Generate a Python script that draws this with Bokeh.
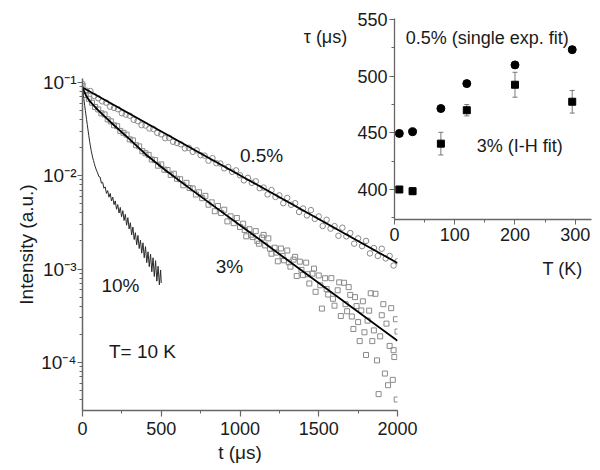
from bokeh.plotting import figure
from bokeh.models import (Label, SingleIntervalTicker, LogTicker, CustomJSTickFormatter,
                          Whisker, ColumnDataSource, TeeHead)
from bokeh.embed import file_html
from bokeh.resources import INLINE

# ---------------- main panel data (T = 10 K) ----------------
t05 = [0, 25, 50, 75, 100, 125, 150, 175, 200, 225, 250, 275, 300, 325, 350, 375, 400, 425, 450, 475,
       500, 525, 550, 575, 600, 625, 650, 675, 700, 725, 750, 775, 800, 825, 850, 875, 900, 925, 950, 975,
       1000, 1025, 1050, 1075, 1100, 1125, 1150, 1175, 1200, 1225, 1250, 1275, 1300, 1325, 1350, 1375,
       1400, 1425, 1450, 1475, 1500, 1525, 1550, 1575, 1600, 1625, 1650, 1675, 1700, 1725, 1750, 1775,
       1800, 1825, 1850, 1875, 1900, 1925, 1950, 1975, 2000]
i05 = [0.0964, 0.0814, 0.0807, 0.0714, 0.0676, 0.0626, 0.0607, 0.0549, 0.0532, 0.0516,
       0.0467, 0.0452, 0.0439, 0.0397, 0.0385, 0.0348, 0.0345, 0.0320, 0.0317, 0.0287,
       0.0278, 0.0252, 0.0255, 0.0231, 0.0224, 0.0217, 0.0196, 0.0199, 0.0180, 0.0187,
       0.0166, 0.0164, 0.0145, 0.0154, 0.0136, 0.0135, 0.0120, 0.0124, 0.0110, 0.0114,
       0.0101, 0.00892, 0.00948, 0.00839, 0.00871, 0.00735, 0.00746, 0.00630, 0.00702, 0.00592,
       0.00615, 0.00508, 0.00578, 0.00488, 0.00507, 0.00409, 0.00445, 0.00375, 0.00428, 0.00345,
       0.00366, 0.00289, 0.00337, 0.00271, 0.00288, 0.00227, 0.00277, 0.00224, 0.00243, 0.00187,
       0.00213, 0.00176, 0.00200, 0.00147, 0.00168, 0.00138, 0.00165, 0.00130, 0.00138, 0.00109,
       0.00121]

t3 = [0, 20, 40, 60, 80, 100, 120, 140, 160, 180, 200, 220, 240, 260, 280, 300, 320, 340, 360, 380,
      400, 420, 440, 460, 480, 500, 520, 540, 560, 580, 600, 620, 640, 660, 680, 700, 720, 740, 760, 780,
      800, 820, 840, 860, 880, 900, 920, 940, 960, 980, 1000, 1020, 1040, 1060, 1080, 1100, 1120, 1140,
      1160, 1180, 1200, 1220, 1240, 1260, 1280, 1300, 1320, 1340, 1360, 1380, 1400, 1420, 1440, 1460,
      1480, 1500, 1520, 1540, 1560, 1580, 1600, 1620, 1640, 1660, 1680, 1700, 1720, 1740, 1760, 1780,
      1800, 1820, 1840, 1860, 1880, 1900, 1920, 1940, 1960, 1980, 2000,
      1030, 1070, 1110, 1150, 1190, 1230, 1270, 1310, 1350, 1390, 1430, 1470, 1510, 1550, 1590, 1630,
      1670, 1690, 1710, 1730, 1750, 1770, 1790, 1810, 1830, 1850, 1870, 1890, 1910, 1930, 1950, 1970,
      1990, 1995, 1975]
i3 = [0.0912, 0.0733, 0.0667, 0.0605, 0.0545, 0.0513, 0.0466, 0.0453, 0.0402, 0.0382,
      0.0347, 0.0339, 0.0302, 0.0288, 0.0275, 0.0245, 0.0239, 0.0212, 0.0206, 0.0183,
      0.0174, 0.0167, 0.0149, 0.0147, 0.0128, 0.0132, 0.0116, 0.0115, 0.0102, 0.0105,
      0.00927, 0.00916, 0.00789, 0.00838, 0.00738, 0.00729, 0.00628, 0.00665, 0.00574, 0.00608,
      0.00489, 0.00518, 0.00416, 0.00473, 0.00398, 0.00432, 0.00324, 0.00367, 0.00310, 0.00352,
      0.00282, 0.00306, 0.00224, 0.00267, 0.00220, 0.00255, 0.00187, 0.00217, 0.00179, 0.00213,
      0.00146, 0.00169, 0.00121, 0.00166, 0.00124, 0.00158, 0.00106, 0.00126, 0.000841, 0.00120,
      0.000861, 0.00117, 0.000700, 0.000893, 0.000570, 0.000853, 0.000377, 0.000796, 0.000533, 0.000798,
      0.000405, 0.000592, 0.000314, 0.000713, 0.000353, 0.000528, 0.000228, 0.000401, 0.000169, 0.000451,
      0.000120, 0.000358, 0.000169, 0.000543, 4.57e-5, 0.000320, 7.59e-5, 5.69e-5, 0.000381, 0.000114,
      0.000214,
      0.00262, 0.00233, 0.00200, 0.00232, 0.00165, 0.00150, 0.00138, 0.00118, 0.00135, 0.00098,
      0.00088, 0.00101, 0.00067, 0.00061, 0.00048, 0.00072, 0.00042, 0.00064, 0.00031, 0.00050,
      0.00027, 0.00036, 0.00021, 0.00028, 0.00055, 0.00022, 0.000105, 0.00019, 0.00042, 0.00026,
      0.00015, 6.5e-5, 0.00029, 4.0e-5, 0.000135]

t10 = [0, 2, 4, 6, 8, 10, 14, 18, 22, 26, 30, 35, 40, 45, 50, 55, 60, 65, 70, 75, 80, 88, 96, 104,
       112, 120, 128, 136, 144, 152, 160, 168, 176, 184, 192, 200, 208, 216, 224, 232, 240, 248, 256,
       264, 272, 280, 288, 296, 304, 312, 320, 328, 336, 344, 352, 360, 368, 376, 384, 392, 400, 408,
       416, 424, 432, 440, 448, 456, 464, 472, 480, 488, 496, 500]
i10 = [0.100, 0.0871, 0.0794, 0.0724, 0.0676, 0.0631, 0.0562, 0.0501, 0.0447, 0.0398, 0.0355, 0.0309,
       0.0269, 0.0234, 0.0209, 0.0186, 0.0170, 0.0155, 0.0145, 0.0135, 0.0126, 0.0115, 0.0107, 0.00977,
       0.00966, 0.00832, 0.00851, 0.00733, 0.00759, 0.00646, 0.00692, 0.00589, 0.00646, 0.00537,
       0.00589, 0.00490, 0.00537, 0.00437, 0.00490, 0.00398, 0.00457, 0.00363, 0.00422, 0.00331,
       0.00385, 0.00295, 0.00355, 0.00269, 0.00313, 0.00232, 0.00282, 0.00207, 0.00245, 0.00182,
       0.00229, 0.00166, 0.00204, 0.00148, 0.00191, 0.00132, 0.00174, 0.00117, 0.00153, 0.00106,
       0.00145, 0.000933, 0.00132, 0.000832, 0.00123, 0.000741, 0.00107, 0.000676, 0.000977, 0.000708]

fit05_t = [0, 2000]
fit05_i = [0.088, 0.00116]
fit3_t = [0, 25, 50, 100, 150, 200, 300, 400, 525, 700, 1000, 1500, 2000]
fit3_i = [0.0871, 0.0708, 0.0617, 0.0501, 0.0417, 0.0347, 0.0245, 0.0170, 0.0115, 0.00692,
          0.00295, 0.000708, 0.000170]

# ---------------- inset data ----------------
T_K = [8, 30, 77, 120, 200, 295]
tau05 = [449.5, 451, 471.5, 493.5, 510, 523.5]
tau05_err = [1, 1, 2, 1.5, 1.5, 2.5]
tau3 = [400, 398.5, 440.5, 470, 492.5, 477.5]
tau3_err = [2, 3, 10, 5, 11, 10]

FONT = "Liberation Sans"
AX = "#666666"
TXT = "#1a1a1a"

# ---------------- main figure ----------------
p = figure(width=565, height=470, x_range=(0, 2000), y_range=(3.05e-5, 0.11),
           y_axis_type="log", output_backend="svg", toolbar_location=None, sizing_mode="fixed",
           min_border_left=100, min_border_right=150, min_border_top=78, min_border_bottom=60)
p.xgrid.visible = False
p.ygrid.visible = False
p.outline_line_color = None
p.background_fill_color = "white"

p.xaxis.ticker = SingleIntervalTicker(interval=500, num_minor_ticks=2)
p.yaxis.ticker = LogTicker(num_minor_ticks=10)
p.yaxis.formatter = CustomJSTickFormatter(code="""
const sup = {'-':'\u207b','0':'\u2070','1':'\u00b9','2':'\u00b2','3':'\u00b3','4':'\u2074',
             '5':'\u2075','6':'\u2076','7':'\u2077','8':'\u2078','9':'\u2079'};
const e = Math.round(Math.log10(tick));
return '10' + String(e).split('').map(c => sup[c]).join('');
""")
for ax in (p.xaxis[0], p.yaxis[0]):
    ax.axis_line_color = AX
    ax.axis_line_width = 1.5
    ax.major_tick_line_color = AX
    ax.minor_tick_line_color = AX
    ax.major_tick_line_width = 1.2
    ax.minor_tick_line_width = 1
    ax.major_tick_in = 0
    ax.minor_tick_in = 0
    ax.major_label_text_font = FONT
    ax.major_label_text_color = TXT
    ax.axis_label_text_font = FONT
    ax.axis_label_text_font_style = "normal"
    ax.axis_label_text_color = TXT
    ax.axis_label_text_font_size = "19px"
p.xaxis.major_tick_out = 6
p.xaxis.minor_tick_out = 3
p.yaxis.major_tick_out = 5
p.yaxis.minor_tick_out = 3
p.xaxis.major_label_text_font_size = "18px"
p.yaxis.major_label_text_font_size = "19px"
p.xaxis.major_label_standoff = 5
p.yaxis.major_label_standoff = 1
p.xaxis.axis_label = "t (\u03bcs)"
p.yaxis.axis_label = "Intensity (a.u.)"
p.xaxis.axis_label_standoff = 4
p.yaxis.axis_label_standoff = 1

p.scatter(t05, i05, marker="circle", size=5.5, fill_color=None, line_color="#8a8a8a", line_width=1)
p.scatter(t3, i3, marker="square", size=5, fill_color=None, line_color="#8a8a8a", line_width=1)
p.line(t10, i10, line_color="#2a2a2a", line_width=1)
p.line(fit05_t, fit05_i, line_color="black", line_width=1.8)
p.line(fit3_t, fit3_i, line_color="black", line_width=1.8)

for txt, x, y in [("0.5%", 1137, 0.0164), ("3%", 933, 0.00107), ("10%", 241, 6.6e-4),
                  ("T= 10 K", 381, 1.32e-4)]:
    p.add_layout(Label(x=x, y=y, text=txt, text_font=FONT, text_font_size="19px",
                       text_color=TXT, text_align="center", text_baseline="middle"))

# ---------------- inset figure ----------------
q = figure(frame_width=197, frame_height=201, x_range=(0, 327), y_range=(373.5, 551),
           output_backend="svg", toolbar_location=None, sizing_mode="fixed",
           min_border_left=98, min_border_right=1, min_border_top=10, min_border_bottom=71)
q.xgrid.visible = False
q.ygrid.visible = False
q.outline_line_color = None
q.background_fill_alpha = 0
q.border_fill_alpha = 0
q.xaxis.ticker = SingleIntervalTicker(interval=100, num_minor_ticks=2)
q.yaxis.ticker = SingleIntervalTicker(interval=50, num_minor_ticks=2)
for ax in (q.xaxis[0], q.yaxis[0]):
    ax.axis_line_color = AX
    ax.axis_line_width = 1.3
    ax.major_tick_line_color = AX
    ax.minor_tick_line_color = AX
    ax.major_tick_in = 0
    ax.minor_tick_in = 0
    ax.major_tick_out = 5
    ax.minor_tick_out = 3
    ax.major_label_text_font = FONT
    ax.major_label_text_color = TXT
    ax.major_label_text_font_size = "18px"
q.xaxis.major_label_standoff = 3
q.yaxis.major_label_standoff = 2

src05 = ColumnDataSource(dict(T=T_K, lo=[a - b for a, b in zip(tau05, tau05_err)],
                              up=[a + b for a, b in zip(tau05, tau05_err)]))
src3 = ColumnDataSource(dict(T=T_K, lo=[a - b for a, b in zip(tau3, tau3_err)],
                             up=[a + b for a, b in zip(tau3, tau3_err)]))
for src in (src05, src3):
    q.add_layout(Whisker(source=src, base="T", lower="lo", upper="up", line_color="#777777",
                         line_width=1,
                         upper_head=TeeHead(size=5, line_color="#777777", line_width=1),
                         lower_head=TeeHead(size=5, line_color="#777777", line_width=1)))
q.scatter(T_K, tau05, marker="circle", size=8, fill_color="black", line_color="black")
q.scatter(T_K, tau3, marker="square", size=7, fill_color="black", line_color="black")

for txt, x, y in [("0.5% (single exp. fit)", 154, 534), ("3% (I-H fit)", 208, 438)]:
    q.add_layout(Label(x=x, y=y, text=txt, text_font=FONT, text_font_size="18px",
                       text_color=TXT, text_align="center", text_baseline="middle"))

# ---------------- overlay for the inset's axis captions (pixel frame over the inset) ----------
o = figure(width=296, height=282, x_range=(0, 296), y_range=(282, 0),
           output_backend="svg", toolbar_location=None, sizing_mode="fixed",
           min_border=0, x_axis_location=None, y_axis_location=None)
o.xgrid.visible = False
o.ygrid.visible = False
o.outline_line_color = None
o.background_fill_alpha = 0
o.border_fill_alpha = 0
for txt, x, y in [("\u03c4 (\u03bcs)", 29, 28), ("T (K)", 266, 260)]:
    o.add_layout(Label(x=x, y=y, text=txt, text_font=FONT, text_font_size="18px",
                       text_color=TXT, text_align="center", text_baseline="middle"))

p.styles = {"position": "absolute", "left": "-18px", "top": "0px",
            "width": "565px", "height": "470px"}
q.styles = {"position": "absolute", "left": "296px", "top": "8px",
            "width": "296px", "height": "282px"}
o.styles = {"position": "absolute", "left": "296px", "top": "8px",
            "width": "296px", "height": "282px"}

open("out.html", "w").write(file_html([p, q, o], INLINE))
